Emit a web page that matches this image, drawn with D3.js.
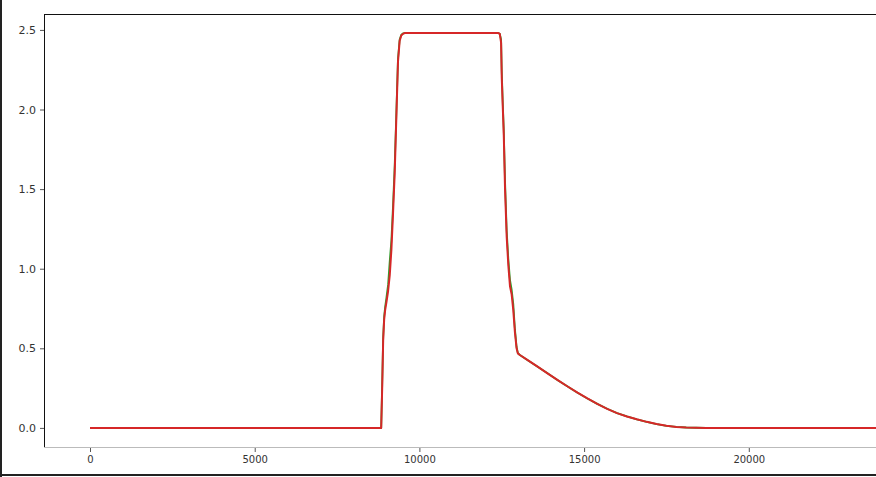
<!DOCTYPE html>
<html>
<head>
<meta charset="utf-8">
<script src="https://cdn.jsdelivr.net/npm/d3@7"></script>
<style>
  body { margin: 0; background: #fff; }
  svg { display: block; }
  .tick text { font-family: "DejaVu Sans", sans-serif; fill: #333; }
</style>
</head>
<body>
<div id="vis"></div>
<script>
const W = 876, H = 477;
// plot box (right side of the axes is cut off by the screenshot)
const box = { left: 44, top: 14, bottom: 447, right: 876 };

const timeSteps = [0, 8800, 8840, 8870, 8900, 8930, 8960, 9000, 9050, 9100, 9150, 9200, 9250, 9300,
    9350, 9400, 9450, 9500, 9550, 9600, 12400, 12440, 12480, 12500, 12530, 12560, 12600, 12650,
    12700, 12750, 12800, 12850, 12900, 12950, 12990, 13050, 13300, 13600, 13900, 14200, 14500,
    14800, 15100, 15400, 15700, 16000, 16300, 16600, 16900, 17200, 17500, 17800, 18100, 18400,
    18700, 19000, 27000]

const greenValues = [0, 0, 0, 0.27, 0.57, 0.7, 0.76, 0.82, 0.9, 1.05, 1.18, 1.4, 1.65, 1.98,
    2.32, 2.44, 2.47, 2.478, 2.48, 2.48, 2.48, 2.476, 2.44, 2.24, 2.05, 1.88, 1.55, 1.24,
    1.06, 0.93, 0.87, 0.78, 0.62, 0.51, 0.47, 0.458, 0.424, 0.383, 0.341, 0.3, 0.26,
    0.221, 0.185, 0.151, 0.12, 0.093, 0.072, 0.054, 0.038, 0.024, 0.013, 0.006, 0.0025, 0.001,
    0, 0, 0]

const redValues = [0, 0, 0, 0.25, 0.55, 0.68, 0.74, 0.79, 0.86, 0.96, 1.12, 1.35, 1.6, 1.95,
    2.3, 2.43, 2.465, 2.475, 2.48, 2.48, 2.48, 2.475, 2.42, 2.2, 2.02, 1.85, 1.5, 1.2,
    1.02, 0.89, 0.84, 0.74, 0.6, 0.5, 0.468, 0.458, 0.424, 0.383, 0.341, 0.3, 0.26,
    0.221, 0.185, 0.151, 0.12, 0.093, 0.072, 0.054, 0.038, 0.024, 0.013, 0.006, 0.0025, 0.001,
    0, 0, 0]

const xTicks = [0, 5000, 10000, 15000, 20000]
const yTicks = [0.0, 0.5, 1.0, 1.5, 2.0, 2.5]

const seriesList = [
    { name: 'green', color: '#2ca02c', width: 1.8, values: greenValues },
    { name: 'red', color: '#d62728', width: 2, values: redValues }
]

const xScale = d3.scaleLinear().domain([-1397, 23862]).range([box.left, box.right]);
const yScale = d3.scaleLinear().domain([-0.12, 2.6]).range([box.bottom, box.top]);

const svg = d3.select('#vis')
    .append('svg')
    .attr('width', W)
    .attr('height', H);

svg.append('clipPath').attr('id', 'plotclip')
    .append('rect')
    .attr('x', box.left).attr('y', box.top)
    .attr('width', box.right - box.left).attr('height', box.bottom - box.top);

// lines
const line = d3.line()
    .x((d, i) => xScale(timeSteps[i]))
    .y(d => yScale(d));

svg.append('g')
    .attr('clip-path', 'url(#plotclip)')
    .selectAll('path')
    .data(seriesList)
    .join('path')
    .attr('d', d => line(d.values))
    .attr('fill', 'none')
    .attr('stroke', d => d.color)
    .attr('stroke-width', d => d.width)
    .attr('stroke-linejoin', 'round');

// axes
const xAxis = d3.axisBottom(xScale)
    .tickValues(xTicks)
    .tickSize(4)
    .tickSizeOuter(0)
    .tickPadding(4)
    .tickFormat(d3.format('d'));

const gx = svg.append('g')
    .attr('transform', `translate(0,${box.bottom + 1})`)
    .call(xAxis);
gx.select('.domain').remove();
gx.selectAll('line').attr('stroke', '#555');
gx.selectAll('text').style('font-size', '10px');

const yAxis = d3.axisLeft(yScale)
    .tickValues(yTicks)
    .tickSize(4)
    .tickPadding(4)
    .tickFormat(d3.format('.1f'));

const gy = svg.append('g')
    .attr('transform', `translate(${box.left},0)`)
    .call(yAxis);
gy.select('.domain').remove();
gy.selectAll('line').attr('stroke', '#555');
gy.selectAll('text').style('font-size', '11px');

// spines
svg.append('line')
    .attr('x1', box.left).attr('x2', box.right)
    .attr('y1', box.top + 0.5).attr('y2', box.top + 0.5)
    .attr('stroke', '#111');
svg.append('line')
    .attr('x1', box.left + 0.5).attr('x2', box.left + 0.5)
    .attr('y1', box.top).attr('y2', box.bottom)
    .attr('stroke', '#111');
svg.append('line')
    .attr('x1', box.left).attr('x2', box.right)
    .attr('y1', box.bottom + 0.5).attr('y2', box.bottom + 0.5)
    .attr('stroke', '#bbb');

// screenshot frame on the left and bottom edges
svg.append('rect')
    .attr('x', 0).attr('y', 0)
    .attr('width', 2).attr('height', H)
    .attr('fill', '#222');
svg.append('rect')
    .attr('x', 0).attr('y', H - 3)
    .attr('width', W).attr('height', 2)
    .attr('fill', '#222');
</script>
</body>
</html>
